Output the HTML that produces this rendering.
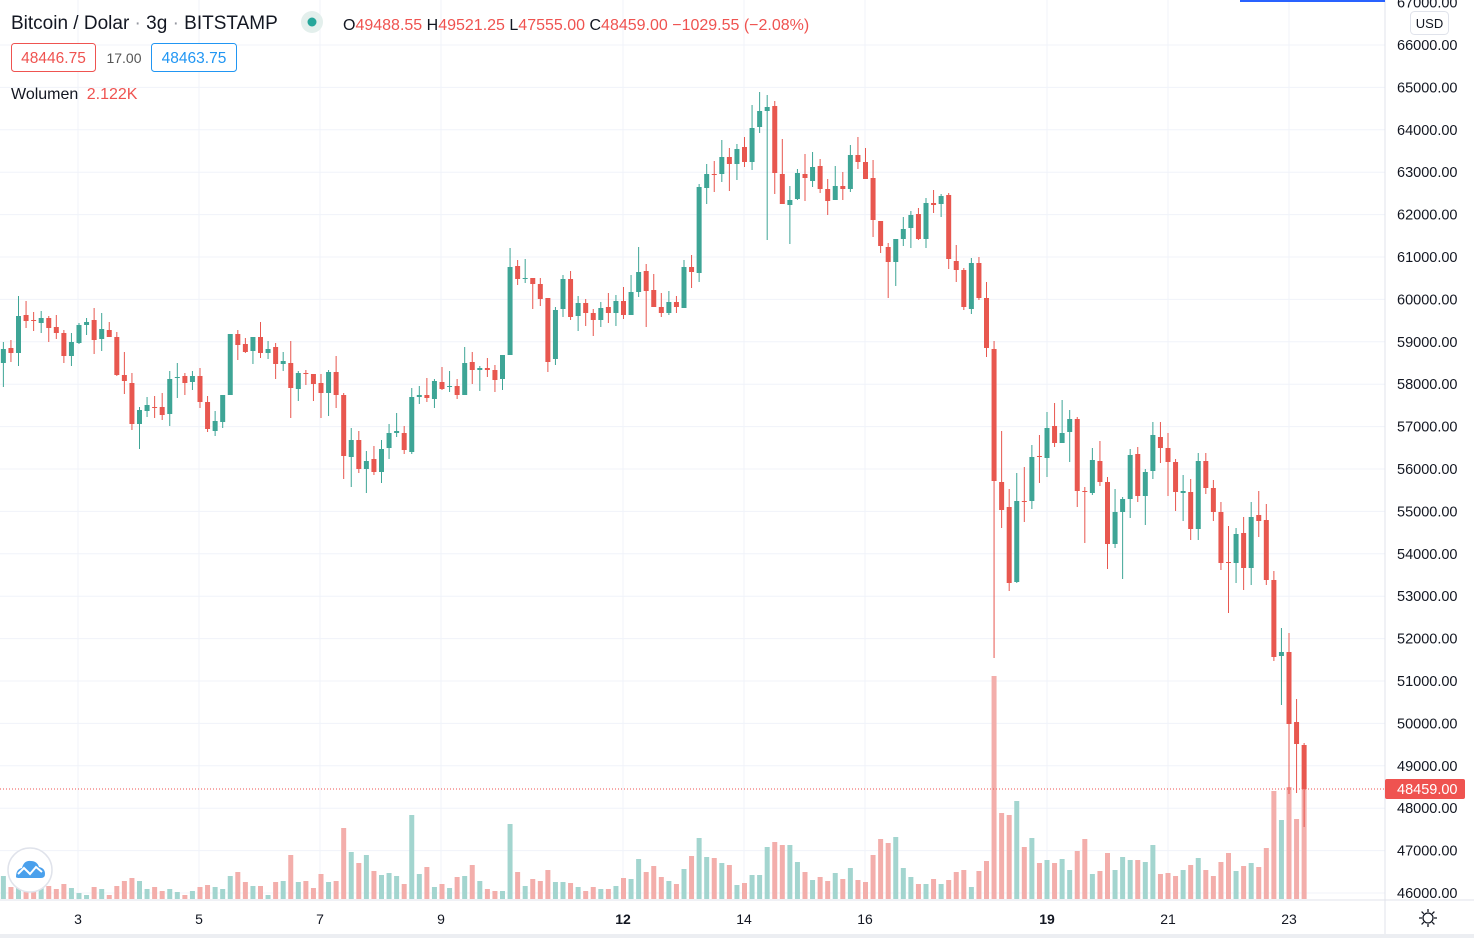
<!DOCTYPE html>
<html><head><meta charset="utf-8"><style>
html,body{margin:0;padding:0;background:#fff;width:1474px;height:938px;overflow:hidden}
svg{display:block}
text{font-family:"Liberation Sans",sans-serif}
</style></head><body>
<svg id="s" width="1474" height="938" viewBox="0 0 1474 938" xmlns="http://www.w3.org/2000/svg">
<rect width="1474" height="938" fill="#fff"/>
<g id="grid"></g>
<g id="vol"></g>
<g id="cdl"></g>
<line x1="0" y1="789" x2="1385" y2="789" stroke="#ef5350" stroke-width="1" stroke-dasharray="1,2"/>
<line x1="0" y1="900" x2="1474" y2="900" stroke="#e0e3eb"/>
<line x1="1385" y1="0" x2="1385" y2="938" stroke="#e0e3eb"/>
<rect x="0" y="934" width="1474" height="4" fill="#eceef2"/>
<rect x="1240" y="0" width="145" height="2" fill="#2962ff"/>
<g id="axis" font-size="14.5" fill="#131722"></g>
<rect x="1385" y="779" width="80" height="20" rx="2" fill="#ef5350"/>
<text x="1397" y="794" font-size="14.5" fill="#fff">48459.00</text>
<rect x="1410.5" y="11.5" width="38" height="23" rx="4" fill="#fff" stroke="#e0e3eb"/>
<text x="1429.5" y="28" font-size="13" fill="#131722" text-anchor="middle">USD</text>
<g font-size="14" fill="#131722" text-anchor="middle">
<text x="78" y="924">3</text><text x="199" y="924">5</text><text x="320" y="924">7</text><text x="441" y="924">9</text>
<text x="623" y="924" font-weight="bold">12</text><text x="744" y="924">14</text><text x="865" y="924">16</text>
<text x="1047" y="924" font-weight="bold">19</text><text x="1168" y="924">21</text><text x="1289" y="924">23</text>
</g>
<g transform="translate(1428,918)" fill="none" stroke="#131722" stroke-width="1.3">
<circle r="5"/>
<path d="M0-9V-6M0 6V9M-9 0H-6M6 0H9M-6.4-6.4L-4.2-4.2M4.2 4.2L6.4 6.4M-6.4 6.4L-4.2 4.2M4.2-4.2L6.4-6.4"/>
</g>
<text x="11" y="29" font-size="19" fill="#131722">Bitcoin / Dolar <tspan fill="#9598a1">·</tspan> 3g <tspan fill="#9598a1">·</tspan> BITSTAMP</text>
<circle cx="312" cy="22" r="11" fill="#e3efec"/>
<circle cx="312" cy="22" r="4.5" fill="#26a69a"/>
<text x="343" y="30" font-size="16" fill="#ef5350"><tspan fill="#131722">O</tspan>49488.55 <tspan fill="#131722">H</tspan>49521.25 <tspan fill="#131722">L</tspan>47555.00 <tspan fill="#131722">C</tspan>48459.00  −1029.55 (−2.08%)</text>
<rect x="11.5" y="43.5" width="84" height="28" rx="3" fill="#fff" stroke="#ef5350"/>
<text x="53.5" y="63" font-size="15.5" fill="#ef5350" text-anchor="middle">48446.75</text>
<text x="124" y="63" font-size="14" fill="#555" text-anchor="middle">17.00</text>
<rect x="151.5" y="43.5" width="85" height="28" rx="3" fill="#fff" stroke="#2196f3"/>
<text x="194" y="63" font-size="15.5" fill="#2196f3" text-anchor="middle">48463.75</text>
<text x="11" y="99" font-size="16" fill="#131722">Wolumen <tspan fill="#ef5350" dx="4">2.122K</tspan></text>
<g id="logo">
<circle cx="30" cy="870" r="22" fill="#fff" stroke="#e0e3eb" stroke-width="1.5"/>
<path d="M16 877 Q16 869 22 868 Q24 860 31 861 Q37 861 39 867 Q45 868 45 874 Q45 878 41 878 L20 878 Q16 878 16 877Z" fill="#4aa0ec"/>
<path d="M18 874 L24 868 L30 874 L36 867 L42 872" stroke="#fff" stroke-width="2" fill="none"/>
</g>
</svg>
<script>
(function(){
var C=[
["g",349,363,342,387],["r",348,353,340,362],["g",316,353,296,366],["r",315,321,301,328],["r",320,321,312,331],["g",318,323,311,333],["r",318,328,316,342],["r",327,333,315,339],["r",333,356,330,363],["g",342,356,333,366],
["g",325,343,323,344],["g",322,325,318,335],["r",320,340,308,354],["g",329,339,313,351],["r",330,337,322,337],["r",337,375,332,376],["r",375,381,352,394],["r",383,424,373,430],["g",410,424,407,449],["g",405,411,397,417],
["r",407,408,396,418],["r",407,415,393,420],["g",379,414,371,426],["g",377,378,363,398],["r",376,383,373,395],["g",376,382,371,390],["r",376,402,368,408],["r",402,429,396,432],["g",421,431,411,436],["g",395,422,395,428],
["g",334,395,334,395],["r",334,345,330,360],["r",344,352,338,353],["g",337,351,337,364],["r",337,353,322,358],["g",349,353,341,359],["r",347,364,343,379],["g",361,364,352,371],["r",363,388,341,418],["g",373,389,371,401],
["r",373,374,370,385],["r",374,384,374,401],["r",383,393,374,418],["g",372,393,370,416],["r",372,395,356,408],["r",395,456,393,479],["g",440,457,428,487],["r",440,469,431,473],["g",461,469,451,493],["r",459,472,446,475],
["g",449,472,440,483],["g",433,448,424,459],["g",431,433,413,437],["r",433,450,426,454],["g",397,452,388,454],["g",395,397,386,404],["r",395,398,378,402],["g",381,399,379,408],["r",382,389,367,390],["g",386,387,371,392],
["r",386,395,379,399],["g",363,395,347,395],["r",362,370,352,384],["g",368,370,366,391],["r",368,370,358,377],["r",370,380,365,392],["g",355,379,355,390],["g",267,355,248,355],["r",266,279,260,285],["g",278,279,259,283],
["r",278,284,278,309],["r",284,299,278,306],["r",298,362,298,372],["g",310,359,307,365],["g",279,309,275,317],["r",279,317,271,320],["g",303,316,296,331],["r",303,313,299,326],["r",313,320,309,336],["g",308,320,302,327],
["r",307,313,293,323],["g",301,313,295,326],["r",301,315,287,319],["g",292,315,275,315],["g",272,292,247,297],["r",271,291,264,327],["r",290,307,274,307],["r",307,313,293,317],["g",302,313,291,315],["r",302,307,296,313],
["g",267,308,260,308],["r",267,272,255,288],["g",187,273,184,282],["g",174,188,164,204],["r",174,175,161,192],["g",157,174,140,182],["r",157,164,148,191],["g",149,164,144,180],["r",147,162,137,167],["g",128,162,105,170],
["g",111,127,92,133],["g",107,111,95,240],["r",106,173,101,194],["r",174,204,139,204],["g",200,205,186,244],["g",173,199,169,200],["r",174,178,154,201],["g",167,181,152,187],["r",166,189,159,193],["r",189,201,179,215],
["g",186,200,166,200],["r",186,189,172,200],["g",155,189,145,192],["r",155,162,137,169],["r",162,179,148,179],["r",178,220,160,237],["r",221,246,221,253],["r",247,262,243,298],["g",239,262,239,286],["g",229,239,217,246],
["g",215,228,211,248],["r",214,239,208,240],["g",203,239,198,248],["r",203,205,190,213],["g",196,204,194,217],["r",195,259,193,269],["r",261,270,245,282],["r",270,307,268,310],["g",263,309,258,314],["r",263,298,257,300],
["r",298,348,282,357],["r",349,481,341,658],["r",482,510,431,528],["r",507,583,489,591],["g",501,582,473,583],["r",501,502,467,522],["g",457,501,445,509],["r",456,457,435,483],["g",428,458,412,477],["r",426,443,403,447],
["g",433,443,400,443],["g",419,432,410,462],["r",419,491,417,507],["r",491,492,487,543],["g",460,493,448,495],["r",461,482,441,486],["r",482,544,477,569],["g",512,544,489,548],["g",499,512,497,579],["g",455,499,449,518],
["r",454,496,447,502],["g",472,496,469,525],["g",435,471,422,479],["r",437,448,422,463],["r",448,462,433,496],["r",462,492,459,511],["g",491,493,475,521],["r",492,529,479,540],["g",461,529,453,540],["r",461,488,453,494],
["r",488,512,480,521],["r",512,563,502,570],["r",562,563,526,613],["g",534,563,528,583],["r",533,568,517,590],["g",517,568,502,585],["r",515,521,491,537],["r",520,580,504,585],["r",580,657,571,661],["g",652,656,628,705],
["r",652,724,633,794],["r",722,744,699,793],["r",745,789,743,827]];
var V="g876 r887 g885 r888 r885 g886 r886 r889 r884 g888 g893 g895 r887 g889 r895 r886 r881 r878 g881 g889 r887 r891 g889 g892 r895 g891 r887 r885 g887 g889 g876 r872 r882 g886 r886 g895 r882 g881 r855 g882 r881 r888 r874 g882 r881 r828 g852 r863 g855 r871 g875 g873 g876 r884 g815 g874 r867 g887 r884 g888 r877 g876 r865 g881 r889 r891 g891 g824 r872 g886 r879 r881 r870 g882 g882 r883 g887 r891 r887 g889 r889 g886 r878 g879 g859 r872 r866 r877 g881 r884 g869 r856 g838 g857 r858 g863 r865 g885 r883 g875 g875 g847 r842 r845 g845 g862 r872 g880 r877 r881 g873 r879 g868 r880 r882 r855 r839 r843 g837 g868 g877 r884 g884 r879 g884 r880 r872 r870 g887 r871 r861 r676 r813 r815 g801 r847 g838 r863 g860 r863 g859 g870 r851 r839 g874 r871 r853 g870 g857 g860 r860 g862 g845 r874 r873 r876 g870 r865 g858 r870 r876 r862 r853 g871 r866 g863 r867 r848 r791 g820 r787 r819 r788".split(" ");
var NS="http://www.w3.org/2000/svg";
function el(p,t,a){var e=document.createElementNS(NS,t);for(var k in a)e.setAttribute(k,a[k]);p.appendChild(e);return e;}
var G=document.getElementById("grid"),VO=document.getElementById("vol"),CD=document.getElementById("cdl"),AX=document.getElementById("axis");
for(var p=67000;p>=46000;p-=1000){var y=45+(66000-p)*0.0424;
 if(p<67000)el(G,"line",{x1:0,y1:y,x2:1385,y2:y,stroke:"#f0f3fa","stroke-width":1});
 var t=el(AX,"text",{x:1397,y:y+5});t.textContent=p+".00";}
[78,199,320,441,623,744,865,1047,1168,1289].forEach(function(x){el(G,"line",{x1:x,y1:0,x2:x,y2:900,stroke:"#f0f3fa","stroke-width":1});});
for(var i=0;i<V.length;i++){var cx=1047+(i+1-139)*7.5625,c=V[i].charAt(0),vt=parseInt(V[i].slice(1),10);
 el(VO,"rect",{x:cx-2.5,y:vt,width:5,height:899-vt,fill:c=="g"?"#a3d5cf":"#f3aeab"});}
for(var j=0;j<C.length;j++){var d=C[j],cx2=1047+(j+1-139)*7.5625,col=d[0]=="g"?"#3ea596":"#e8574f";
 el(CD,"rect",{x:cx2-0.5,y:d[3],width:1,height:d[4]-d[3],fill:col});
 el(CD,"rect",{x:cx2-2.5,y:d[1],width:5,height:Math.max(1,d[2]-d[1]),fill:col});}
})();
</script>
</body></html>
